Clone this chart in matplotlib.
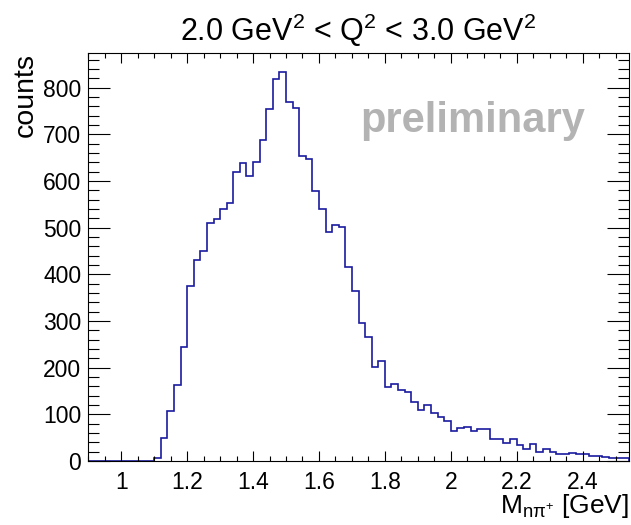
import numpy as np
import matplotlib
matplotlib.use("Agg")
import matplotlib.pyplot as plt
from matplotlib.ticker import MultipleLocator

plt.rcParams['font.family'] = ['Liberation Sans', 'DejaVu Sans']
plt.rcParams['mathtext.fontset'] = 'custom'
plt.rcParams['mathtext.rm'] = 'Liberation Sans'
plt.rcParams['mathtext.it'] = 'Liberation Sans:italic'

# invariant mass n pi+ , 0.02 GeV bins from 0.9 to 2.54
X_MIN = 0.9
BIN_W = 0.02
counts = [0, 0, 0, 0, 0, 0, 0, 0, 0, 0,
          6, 49, 108, 163, 244, 375, 431, 451, 511, 518,
          540, 554, 619, 639, 611, 640, 688, 754, 818, 833,
          769, 756, 653, 648, 579, 540, 490, 506, 501, 416,
          364, 296, 265, 201, 214, 159, 166, 152, 147, 127,
          109, 121, 102, 95, 86, 65, 71, 73, 65, 69,
          69, 48, 48, 39, 48, 34, 26, 36, 20, 26,
          20, 14, 16, 18, 15, 14, 11, 11, 8, 6,
          7, 7]
counts = np.array(counts)
edges = X_MIN + BIN_W*np.arange(len(counts)+1)

fig = plt.figure(figsize=(6.31, 5.25), dpi=100)
ax = fig.add_axes([88.3/631, 64/525, 540.4/631, 408/525])

ax.stairs(counts, edges, color='#1a1aa0', lw=1.2)

ax.set_xlim(edges[0], edges[-1])
ax.set_ylim(0, 1.05*counts.max())

ax.xaxis.set_major_locator(MultipleLocator(0.2))
ax.xaxis.set_minor_locator(MultipleLocator(0.05))
ax.yaxis.set_major_locator(MultipleLocator(100))
ax.yaxis.set_minor_locator(MultipleLocator(20))
ax.xaxis.set_major_formatter(plt.FuncFormatter(lambda v, p: ('%g' % round(v, 2))))

ax.tick_params(which='both', direction='in', top=True, right=True,
               width=0.8, labelsize=16.5, colors='black')
ax.tick_params(axis='x', which='major', length=7, pad=7)
ax.tick_params(axis='x', which='minor', length=3.6)
ax.tick_params(axis='y', which='major', length=16, pad=5)
ax.tick_params(axis='y', which='minor', length=8)
for s in ax.spines.values():
    s.set_linewidth(0.8)

ax.set_ylabel('counts', fontsize=20.5, loc='top')
ax.yaxis.set_label_coords(-0.092, 1.0)
ax.set_xlabel(r'$\mathrm{M}_{\mathrm{n\pi}^{+}}$ [GeV]', fontsize=19, loc='right')
ax.xaxis.set_label_coords(1.0, -0.075)

ax.text(0.5, 1.029, r'2.0 GeV$^{2}$ < Q$^{2}$ < 3.0 GeV$^{2}$', transform=ax.transAxes,
        ha='center', va='baseline', fontsize=22)

ax.text(0.504, 0.807, 'preliminary', transform=ax.transAxes, ha='left', va='baseline',
        fontsize=30, fontweight='bold', color='#b3b3b3')

fig.savefig('out.png', dpi=100)
